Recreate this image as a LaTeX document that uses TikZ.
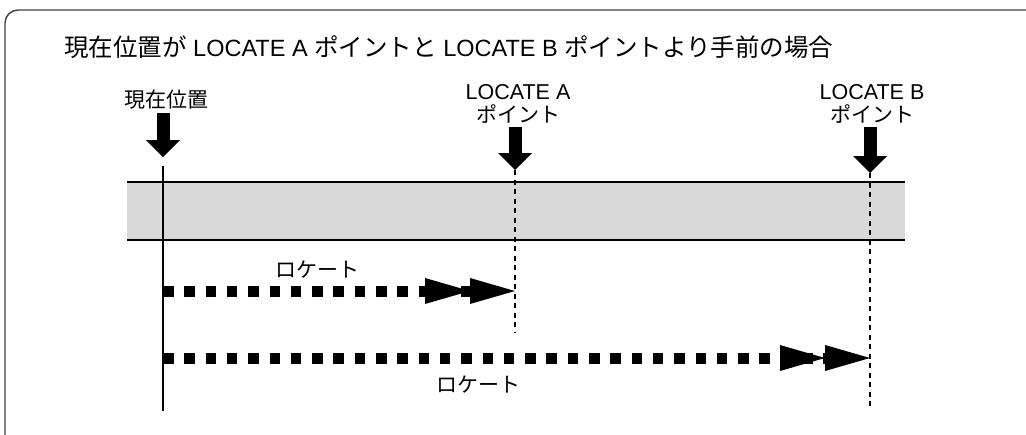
\documentclass[tikz,border=0pt]{standalone}
\usepackage{fontspec}
\setmainfont{Liberation Sans}
\newfontfamily\jpfont{Noto Sans CJK JP}
\newcommand{\jptext}[1]{{\jpfont #1}}
\usetikzlibrary{arrows.meta}

\begin{document}
\begin{tikzpicture}[x=1pt, y=-1pt,
    lbl/.style={font=\fontsize{21.5}{23}\selectfont, align=center, inner sep=0pt},
    frame/.style={draw=black!75, line width=1.4pt, rounded corners=13pt},
    band/.style={fill=black!15},
    bandline/.style={line width=2.6pt},
    posline/.style={line width=2.6pt},
    guide/.style={line width=2.6pt, dash pattern=on 5pt off 4.5pt},
    downarr/.style={line width=13pt, shorten <=3pt, -{Triangle[length=17pt,width=34pt,line width=0pt]}},
    locarr/.style={line width=11pt, dash pattern=on 10.5pt off 10.8pt,
      -{Triangle[length=45pt,width=26pt,line width=0pt]Triangle[length=45pt,width=26pt,line width=0pt]}}
]
\useasboundingbox (0,0) rectangle (1026,434);
% Frame and title
\draw[frame] (5,445) -- (5,10) -- (1040,10);
\node[lbl, anchor=west, font=\fontsize{23.5}{26}\selectfont] (title) at (64,47)
  {\jptext{\fontsize{24.5}{26}\selectfont 現在位置が} LOCATE A \jptext{\fontsize{24.5}{26}\selectfont ポイントと} LOCATE B \jptext{\fontsize{24.5}{26}\selectfont ポイントより手前の場合}};

% Tape band
\fill[band] (127,182) rectangle (905,240);
\draw[bandline] (127,182) -- (905,182);
\draw[bandline] (127,240) -- (905,240);

% Current position
\node[lbl] (curlbl) at (166,100) {\jptext{\fontsize{21}{23}\selectfont 現在位置}};
\coordinate (curtip) at (163,157);
\coordinate (curtop) at (163,166);
\coordinate (curbot) at (163,411);
\draw[downarr] (curlbl.south -| curtip) -- (curtip);
\draw[posline] (curtop) -- (curbot);

% LOCATE A point
\node[lbl] (albl) at (518,104) {LOCATE A\\\jptext{\fontsize{21}{23}\selectfont ポイント}};
\coordinate (atip) at (515,170);
\coordinate (abot) at (515,333);
\draw[downarr] (albl.south -| atip) -- (atip);
\draw[guide] (atip) -- (abot);

% LOCATE B point
\node[lbl] (blbl) at (872,104) {LOCATE B\\\jptext{\fontsize{21}{23}\selectfont ポイント}};
\coordinate (btip) at (870,173);
\coordinate (bbot) at (870,410);
\draw[downarr] (blbl.south -| btip) -- (btip);
\draw[guide] (btip) -- (bbot);

% Locate moves
\coordinate (loca) at (163,291);
\coordinate (locb) at (163,358);
\draw[locarr] (loca) -- (abot |- loca);
\node[lbl] (localbl) at (317,270) {\jptext{\fontsize{21}{23}\selectfont ロケート}};
\draw[locarr] (locb) -- (bbot |- locb);
\node[lbl] (locblbl) at (478,385) {\jptext{\fontsize{21}{23}\selectfont ロケート}};
\end{tikzpicture}
\end{document}
